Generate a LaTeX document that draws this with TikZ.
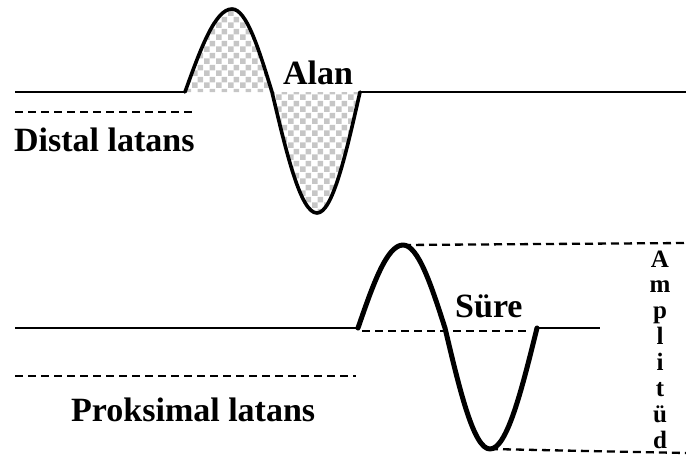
\documentclass[tikz,border=0pt]{standalone}
\usepackage{fontspec}
\setmainfont{Liberation Serif}
\usetikzlibrary{patterns.meta}

\tikzdeclarepattern{
  name=checks,
  tile size={(12pt,12pt)},
  bottom left={(0pt,0pt)},
  top right={(12pt,12pt)},
  code={
    \fill (0pt,0pt) rectangle (6pt,6pt);
    \fill (6pt,6pt) rectangle (12pt,12pt);
  }
}

\begin{document}
\begin{tikzpicture}[
x=1pt, y=-1pt,
trace/.style={line width=3.6pt, line join=round, line cap=round},
flat/.style={line width=2.5pt},
guide/.style={line width=2.3pt, dash pattern=on 8pt off 5pt},
lbl/.style={font=\bfseries\fontsize{34}{40}\selectfont, inner sep=0pt},
letter/.style={font=\bfseries\fontsize{25}{30}\selectfont, inner sep=0pt, anchor=base}
]
\useasboundingbox (0,0) rectangle (686,459);

% ------------------------
% Distal trace (top)
% ------------------------
\coordinate (dstart) at (185,92);
\coordinate (dpeak) at (232,9);
\coordinate (dcross) at (272,92);
\coordinate (dtrough) at (317,213);
\coordinate (dend) at (360,92);

\fill[pattern=checks, pattern color=gray!45]
  (dstart) sin (dpeak) cos (dcross) sin (dtrough) cos (dend) -- cycle;

\draw[flat] (15,92) -- (dstart);
\draw[trace] (dstart) sin (dpeak) cos (dcross) sin (dtrough) cos (dend);
\draw[flat] (dend) -- (686,92);

\draw[guide] (15,112) -- (192,112);

\node[lbl, anchor=base] (alan) at (318,84) {Alan};
\node[lbl, anchor=base west] (distal) at (14,151) {Distal latans};

% ------------------------
% Proximal trace (bottom)
% ------------------------
\coordinate (pstart) at (358,328);
\coordinate (ppeak) at (403,245);
\coordinate (pcross) at (445,328);
\coordinate (ptrough) at (490,449);
\coordinate (pend) at (537,328);

\draw[flat] (15,328) -- (pstart);
\draw[trace, line width=5pt] (pstart) sin (ppeak) cos (pcross) sin (ptrough) cos (pend);
\draw[flat] (pend) -- (600,328);

\draw[guide] (15,376) -- (356,376);
\draw[guide] (362,331) -- (528,331);

% amplitude guides
\draw[guide] (ppeak) -- (686,243);
\draw[guide] (ptrough) -- (686,453);

\node[lbl, anchor=base west] (sure) at (455,317) {Süre};
\node[lbl, anchor=base west] (proks) at (71,421) {Proksimal latans};

% vertical label
\foreach \ch [count=\i from 0] in {A,m,p,l,i,t,ü,d}
  \node[letter] (amp\i) at (660,267+25.9*\i) {\ch};

\end{tikzpicture}
\end{document}
